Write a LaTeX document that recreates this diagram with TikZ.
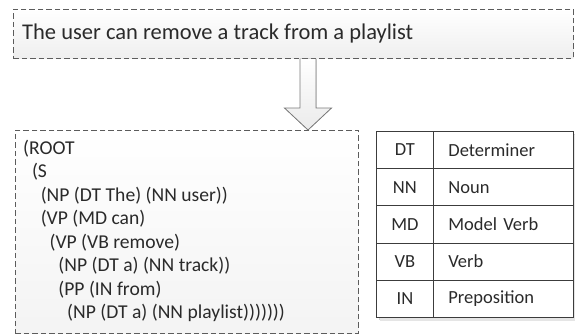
\documentclass[tikz,border=0pt]{standalone}
\usepackage{fontspec}
\setmainfont{Carlito}
\usetikzlibrary{calc}
\definecolor{ink}{HTML}{2A2A2A}
\definecolor{edge}{HTML}{5C5C5C}
\definecolor{rule}{HTML}{3C3C3C}
\definecolor{arrowedge}{HTML}{7A7A7A}

\begin{document}
\begin{tikzpicture}[x=1pt,y=-1pt,
  dashbox/.style={draw=edge, line width=0.8pt, dash pattern=on 5.5pt off 3pt,
    top color=white, bottom color=gray!13, inner sep=0pt, anchor=north west},
  sentfont/.style={font=\fontsize{22.5}{27}\selectfont, text=ink},
  treeline/.style={anchor=base west, inner sep=0pt, text=ink,
    font=\fontsize{19.6}{23.5}\selectfont},
  cell/.style={draw=rule, line width=0.8pt, fill=white, anchor=north west,
    minimum height=37.2pt, inner sep=0pt, text=ink,
    font=\fontsize{18.5}{22}\selectfont},
  abbrcell/.style={cell, minimum width=57pt, align=center},
  desccell/.style={cell, minimum width=140pt, text width=110pt, inner xsep=15pt, align=left},
  blockarrow/.style={draw=arrowedge, line width=0.8pt, line join=miter},
]
\useasboundingbox (0,0) rectangle (575,335);

% sentence box
\node[dashbox, minimum width=560pt, minimum height=49pt] (sent) at (13,9) {};
\node[sentfont, anchor=base west, inner sep=0pt] (senttext) at (22,39)
  {The user can remove a track from a playlist};

% parse tree box
\node[dashbox, minimum width=343pt, minimum height=203pt, bottom color=gray!9] (tree) at (15,130) {};
\foreach \i/\lvl/\t in {
  1/0/{(ROOT},
  2/1/{(S},
  3/2/{(NP (DT The) (NN user))},
  4/2/{(VP (MD can)},
  5/3/{(VP (VB remove)},
  6/4/{(NP (DT a) (NN track))},
  7/4/{(PP (IN from)},
  8/5/{(NP (DT a) (NN playlist)))))))}}
  \node[treeline] (line\i) at ($(tree.north west)+(8+\lvl*8.8,24.3+\i*23.5-23.5)$) {\t};

% block arrow from sentence to tree
\coordinate (tail) at ($(sent.south west)+(295,0)$);
\coordinate (tip) at ($(tree.north west)+(293,0)$);
\fill[top color=white, bottom color=gray!16]
  ($(tail)+(-8,0)$) -- ($(tip)+(-8,-22)$) -- ($(tip)+(-23.5,-22)$) -- (tip)
  -- ($(tip)+(23.5,-22)$) -- ($(tip)+(8,-22)$) -- ($(tail)+(8,0)$) -- cycle;
\draw[blockarrow]
  ($(tail)+(-8,0)$) -- ($(tip)+(-8,-22)$) -- ($(tip)+(-23.5,-22)$) -- (tip)
  -- ($(tip)+(23.5,-22)$) -- ($(tip)+(8,-22)$) -- ($(tail)+(8,0)$);

% tag table with a soft shadow
\fill[gray!35] (378.5,133.5) rectangle (575,319.5);
\fill[gray!20] (379.5,134.5) rectangle (575,320.5);
\foreach \i/\a/\d in {1/DT/Determiner, 2/NN/Noun, 3/MD/Model Verb, 4/VB/Verb, 5/IN/Preposition} {
  \node[abbrcell] (abbr\i) at (376,131+\i*37.2-37.2) {\a};
  \node[desccell] (desc\i) at (433,131+\i*37.2-37.2) {\d};
}
\end{tikzpicture}
\end{document}
